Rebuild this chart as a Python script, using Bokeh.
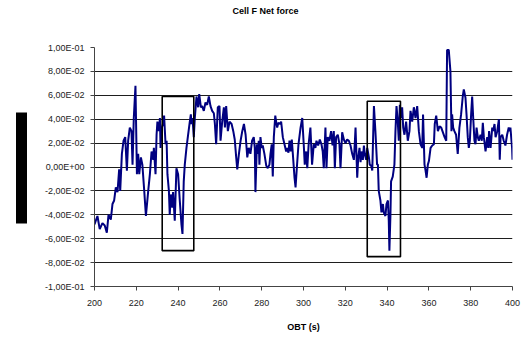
from bokeh.plotting import figure
from bokeh.models import FixedTicker, LinearAxis
from bokeh.embed import file_html
from bokeh.resources import INLINE

# Net force on cell F versus on-board time
obt_s = [
    200.0, 201.4, 202.5, 203.8, 204.9, 205.9, 206.7, 207.8, 208.6, 209.4,
    210.2, 211.0, 211.8, 212.3, 213.1, 213.9, 214.7, 215.5, 216.1, 216.9,
    217.7, 218.2, 218.8, 219.6, 220.3, 220.9, 221.4, 222.2, 222.9, 223.8,
    224.6, 225.7, 226.5, 227.3, 228.1, 228.4, 229.2, 229.7, 230.1, 230.8,
    231.3, 231.6, 232.1, 232.9, 233.3, 234.0, 234.5, 234.9, 235.6, 236.0,
    236.5, 237.2, 237.6, 238.4, 239.2, 240.0, 240.8, 241.6, 242.1, 242.7,
    243.2, 244.0, 244.8, 245.6, 246.1, 246.4, 246.9, 247.5, 248.0, 248.8,
    249.6, 250.1, 250.9, 251.5, 252.3, 253.1, 253.9, 254.7, 255.5, 256.3,
    257.1, 257.6, 258.2, 259.0, 259.8, 260.3, 261.1, 261.9, 262.4, 263.0,
    263.8, 264.6, 265.6, 266.4, 267.1, 267.8, 268.3, 269.1, 269.9, 270.7,
    271.5, 272.3, 273.1, 273.8, 274.6, 275.4, 276.2, 276.7, 277.0, 277.7,
    278.1, 278.6, 278.9, 279.4, 280.0, 280.5, 281.3, 282.2, 282.9, 283.7,
    284.2, 284.8, 285.3, 285.8, 286.5, 286.9, 287.4, 288.0, 288.8, 289.3,
    290.1, 290.9, 291.7, 292.2, 292.8, 293.3, 293.9, 294.4, 294.9, 295.7,
    296.2, 296.8, 297.6, 298.6, 299.4, 300.2, 300.6, 301.3, 301.8, 302.5,
    303.3, 304.1, 304.9, 305.7, 306.2, 307.0, 307.8, 308.6, 309.2, 309.7,
    310.5, 311.0, 311.6, 312.4, 313.2, 313.9, 314.5, 315.0, 315.6, 316.4,
    317.2, 317.7, 318.5, 319.3, 320.1, 320.9, 321.7, 322.5, 323.3, 324.1,
    324.6, 324.9, 325.7, 326.2, 326.8, 327.3, 327.7, 328.4, 328.9, 329.3,
    330.0, 330.5, 331.3, 331.7, 332.4, 332.9, 333.7, 334.4, 335.2, 335.6,
    336.0, 336.8, 337.3, 338.0, 338.4, 339.2, 339.7, 340.4, 340.8, 341.1,
    341.6, 341.9, 342.7, 343.5, 344.0, 344.5, 345.1, 345.6, 346.1, 346.7,
    347.2, 347.7, 348.3, 349.1, 349.9, 350.7, 351.2, 352.0, 352.8, 353.6,
    354.4, 355.2, 356.0, 356.8, 357.2, 357.9, 358.4, 358.9, 359.5, 360.0,
    360.8, 361.6, 362.4, 362.8, 363.5, 364.3, 365.1, 365.9, 366.7, 367.5,
    368.3, 368.7, 369.5, 370.3, 370.8, 371.1, 371.6, 372.2, 373.0, 373.8,
    374.6, 375.4, 376.2, 376.7, 377.5, 378.0, 378.6, 379.1, 379.6, 380.2,
    380.7, 381.2, 381.8, 382.3, 382.8, 383.4, 383.9, 384.7, 385.3, 385.8,
    386.3, 387.1, 387.9, 388.4, 388.8, 389.5, 390.3, 390.7, 391.4, 391.9,
    392.7, 393.5, 393.9, 394.3, 395.1, 395.8, 396.6, 397.4, 398.2, 398.7,
    399.0, 399.8, 400.0,
]
net_force = [
    -0.048, -0.041, -0.052, -0.047, -0.049, -0.055, -0.040, -0.044, -0.031, -0.028,
    -0.017, -0.021, -0.002, -0.020, 0.011, 0.022, 0.025, -0.003, 0.022, 0.033,
    0.030, 0.002, 0.041, 0.068, -0.006, 0.011, -0.006, 0.008, 0.002, -0.020,
    -0.041, -0.020, -0.006, 0.013, 0.006, 0.016, -0.006, 0.027, 0.038, 0.030,
    0.041, 0.016, 0.032, 0.037, 0.043, 0.019, 0.022, -0.006, -0.020, -0.040,
    -0.023, -0.034, -0.021, -0.045, -0.001, -0.006, -0.028, -0.048, -0.056, -0.012,
    0.002, 0.016, 0.027, 0.038, 0.044, 0.036, 0.041, 0.025, 0.041, 0.059,
    0.050, 0.061, 0.050, 0.051, 0.047, 0.054, 0.052, 0.059, 0.051, 0.047,
    0.045, 0.036, 0.019, 0.050, 0.051, 0.022, 0.038, 0.050, 0.033, 0.051,
    0.030, 0.038, 0.036, 0.030, 0.023, 0.008, -0.002, 0.011, 0.022, 0.030,
    0.036, 0.027, 0.008, 0.016, 0.011, 0.022, 0.025, 0.016, -0.021, 0.019,
    0.011, 0.022, 0.002, 0.025, 0.016, 0.018, 0.011, 0.001, -0.001, 0.002,
    0.011, 0.019, -0.008, 0.025, 0.043, 0.038, 0.033, 0.037, 0.036, 0.038,
    0.025, 0.019, 0.013, 0.016, 0.012, 0.022, 0.013, 0.023, 0.011, -0.009,
    -0.017, -0.001, 0.019, 0.033, 0.041, 0.016, 0.002, 0.013, -0.001, 0.020,
    0.033, 0.002, 0.019, 0.016, 0.022, 0.018, 0.023, 0.019, 0.013, -0.001,
    0.033, -0.001, 0.025, 0.022, 0.030, 0.018, 0.030, -0.001, 0.025, 0.027,
    0.019, -0.001, 0.029, 0.023, 0.020, 0.023, 0.022, 0.018, 0.011, 0.006,
    0.022, 0.033, -0.009, 0.008, 0.016, 0.004, 0.013, 0.006, 0.018, 0.011,
    0.006, 0.016, 0.008, 0.002, 0.001, -0.003, 0.051, 0.030, 0.002, 0.002,
    -0.020, -0.028, -0.038, -0.031, -0.038, -0.041, -0.031, -0.028, -0.045, -0.070,
    -0.040, -0.012, -0.008, 0.002, 0.030, 0.051, 0.038, 0.022, 0.052, 0.041,
    0.050, 0.033, 0.027, 0.038, 0.022, 0.030, 0.047, 0.038, 0.050, 0.041,
    0.051, 0.030, 0.019, 0.016, 0.044, 0.002, -0.003, -0.009, 0.002, 0.005,
    0.016, 0.018, 0.019, 0.036, 0.043, 0.030, 0.034, 0.033, 0.029, 0.025,
    0.022, 0.098, 0.098, 0.080, 0.030, 0.044, 0.033, 0.030, 0.027, 0.011,
    0.033, 0.044, 0.059, 0.065, 0.058, 0.044, 0.025, 0.016, 0.022, 0.044,
    0.059, 0.041, 0.022, 0.019, 0.033, 0.025, 0.022, 0.027, 0.022, 0.037,
    0.025, 0.013, 0.025, 0.016, 0.030, 0.016, 0.033, 0.030, 0.036, 0.025,
    0.030, 0.040, 0.006, 0.025, 0.027, 0.022, 0.018, 0.027, 0.033, 0.030,
    0.033, 0.016, 0.006,
]

# Highlighted intervals (rectangles drawn over the trace)
box_left = [232.4, 330.5]
box_right = [247.5, 346.4]
box_bottom = [-0.070, -0.075]
box_top = [0.059, 0.055]

x_ticks = [200, 220, 240, 260, 280, 300, 320, 340, 360, 380, 400]
y_ticks = [-0.1, -0.08, -0.06, -0.04, -0.02, 0.0, 0.02, 0.04, 0.06, 0.08, 0.1]
y_tick_labels = [
    "-1,00E-01", "-8,00E-02", "-6,00E-02", "-4,00E-02", "-2,00E-02", "0,00E+00",
    "2,00E-02", "4,00E-02", "6,00E-02", "8,00E-02", "1,00E-01",
]

# Extent of the solid block beside the y axis, in y data units
block_bounds = (-0.047, 0.046)

FONT = "Liberation Sans"

p = figure(
    width=521, height=339,
    x_range=(200, 400), y_range=(-0.1, 0.1),
    output_backend="svg", toolbar_location=None,
    min_border_left=94, min_border_right=9,
    min_border_top=47, min_border_bottom=53,
    background_fill_color="white", border_fill_color="white",
)
p.outline_line_color = None

p.title.text = "Cell F Net force"
p.title.align = "left"
p.title.offset = 138
p.title.standoff = 4
p.title.text_font = FONT
p.title.text_font_size = "9px"
p.title.text_font_style = "bold"
p.title.text_color = "black"

# Bottom x axis and left y axis, grabbed before any extra axes are added
xa = p.below[0]
ya = p.left[0]


def spacer_axis(at, depth):
    """A white, label-less axis whose single tick reserves `depth` pixels."""
    return LinearAxis(ticker=FixedTicker(ticks=[at]),
                      major_label_overrides={at: ""},
                      major_label_text_font_size="1px", major_label_standoff=0,
                      axis_line_color=None, major_tick_in=0,
                      major_tick_out=depth, major_tick_line_color="white",
                      minor_tick_in=0, minor_tick_out=0,
                      minor_tick_line_color=None)


# Empty band between the frame and the title
p.add_layout(spacer_axis(300, 30), "above")

# Grid
p.xgrid.grid_line_color = None
p.ygrid.ticker = FixedTicker(ticks=y_ticks)
p.ygrid.grid_line_color = "#1e1e1e"
p.ygrid.grid_line_width = 1

# X axis
xa.ticker = FixedTicker(ticks=x_ticks)
xa.axis_line_color = "#444444"
xa.major_tick_line_color = "#444444"
xa.major_tick_out = 4
xa.major_tick_in = 0
xa.minor_tick_line_color = None
xa.major_label_text_font = FONT
xa.major_label_text_font_size = "9px"
xa.major_label_text_color = "#222222"
xa.major_label_standoff = 9
xa.axis_label = "OBT (s)"
xa.axis_label_text_font = FONT
xa.axis_label_text_font_size = "9px"
xa.axis_label_text_font_style = "bold"
xa.axis_label_text_color = "black"
xa.axis_label_standoff = 13

# Y axis
ya.ticker = FixedTicker(ticks=y_ticks)
ya.major_label_overrides = dict(zip(y_ticks, y_tick_labels))
ya.axis_line_color = "#444444"
ya.major_tick_line_color = "#444444"
ya.major_tick_out = 4
ya.major_tick_in = 0
ya.minor_tick_line_color = None
ya.major_label_text_font = FONT
ya.major_label_text_font_size = "9px"
ya.major_label_text_color = "#222222"
ya.major_label_standoff = 6

# Gap, then the solid black block further left (an axis line with bounds)
p.add_layout(spacer_axis(0.0, 20), "left")
p.add_layout(LinearAxis(ticker=FixedTicker(ticks=[]), bounds=block_bounds,
                        axis_line_color="black", axis_line_width=11,
                        major_tick_in=0, major_tick_out=0,
                        minor_tick_in=0, minor_tick_out=0,
                        major_tick_line_color=None, minor_tick_line_color=None),
             "left")

p.line(obt_s, net_force, line_color="#000080", line_width=2)
p.quad(left=box_left, right=box_right, bottom=box_bottom, top=box_top,
       fill_color=None, line_color="black", line_width=1.6)

open("out.html", "w").write(file_html(p, INLINE))
